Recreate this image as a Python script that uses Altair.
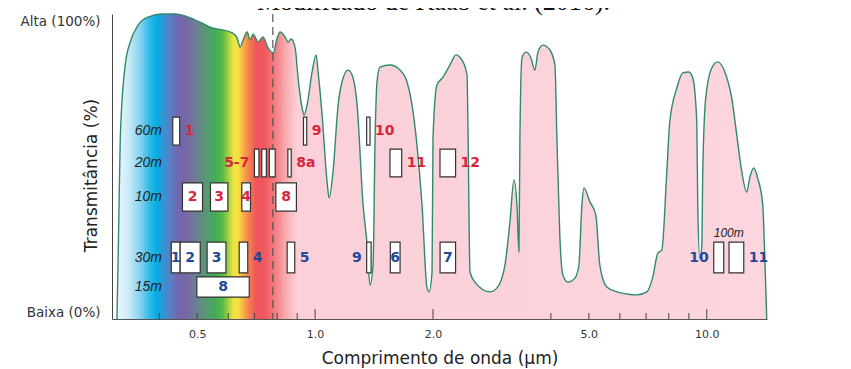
import altair as alt
import numpy as np
import pandas as pd

# ---------------- data ----------------
# atmospheric transmittance curve (wavelength in µm, transmittance in %)
WAVELENGTH = [0.312, 0.3148, 0.3181, 0.3275, 0.3373, 0.3535, 0.375, 0.407, 0.4394, 0.4743,
              0.5148, 0.5461, 0.5791, 0.6141, 0.6324, 0.6437, 0.6551, 0.6707, 0.6826, 0.6947,
              0.7154, 0.7367, 0.7543, 0.7815, 0.800, 0.8143, 0.8384, 0.8533, 0.8685, 0.8892,
              0.9049, 0.9264, 0.9374, 0.9541, 0.9825, 1.0059, 1.0178, 1.042, 1.073, 1.086,
              1.111, 1.145, 1.179, 1.214, 1.243, 1.280, 1.326, 1.358, 1.381, 1.406,
              1.423, 1.439, 1.465, 1.553, 1.648, 1.717, 1.768, 1.820, 1.875, 1.931,
              1.954, 1.989, 2.000, 2.047, 2.121, 2.210, 2.289, 2.371, 2.443, 2.457,
              2.486, 2.560, 2.795, 2.913, 3.053, 3.144, 3.219, 3.276, 3.315, 3.334,
              3.374, 3.454, 3.557, 3.641, 3.706, 3.816, 3.977, 4.096, 4.144, 4.217,
              4.292, 4.420, 4.606, 4.716, 4.800, 4.856, 5.029, 5.209, 5.333, 5.557,
              5.893, 6.250, 6.629, 7.031, 7.283, 7.499, 7.678, 7.906, 8.046, 8.385,
              8.685, 8.997, 9.211, 9.430, 9.485, 9.597, 9.710, 9.768, 9.941, 10.299,
              10.67, 11.12, 11.58, 11.93, 12.29, 12.65, 12.87, 13.18, 13.49, 13.90,
              14.06, 14.23]
TRANSMITTANCE = [0.0, 26.6, 59.3, 83.3, 90.8, 96.4, 99.0, 100.0, 100.0, 99.0,
                 97.0, 95.4, 94.8, 93.8, 92.1, 89.2, 91.5, 94.1, 91.5, 93.4,
                 90.8, 92.5, 89.5, 87.2, 92.1, 94.1, 92.5, 90.8, 91.8, 88.9,
                 79.0, 69.2, 66.9, 70.2, 81.0, 86.6, 81.0, 66.9, 44.9, 39.7,
                 48.2, 70.2, 79.0, 81.6, 80.0, 70.2, 37.4, 24.3, 11.1, 17.7,
                 59.3, 77.7, 82.6, 83.3, 81.6, 77.7, 70.2, 57.0, 37.4, 10.2,
                 8.9, 15.4, 59.3, 76.7, 79.3, 83.3, 86.6, 84.9, 80.0, 62.0,
                 15.4, 12.1, 8.9, 10.2, 17.7, 31.8, 45.6, 37.4, 22.0, 59.3,
                 85.6, 87.5, 85.6, 81.6, 87.5, 89.8, 88.2, 83.3, 59.3, 26.6,
                 14.4, 12.1, 13.4, 17.7, 37.4, 43.0, 38.4, 34.1, 17.7, 10.5,
                 8.9, 8.2, 7.9, 8.9, 13.8, 21.6, 22.6, 48.2, 64.6, 75.7,
                 80.7, 81.0, 79.0, 64.6, 37.4, 20.0, 23.3, 48.2, 72.5, 82.3,
                 84.3, 81.0, 72.5, 60.3, 48.2, 41.6, 46.2, 49.5, 46.2, 37.4,
                 21.0, 0.0]

# Sentinel-2 bands
S2_LABEL = ["1", "9", "10", "5-7", "", "", "8a", "11", "12", "2", "3", "4", "8"]
S2_ROW = ["60m", "60m", "60m", "20m", "20m", "20m", "20m", "20m", "20m", "10m", "10m", "10m", "10m"]
S2_LO = [0.433, 0.934, 1.354, 0.700, 0.731, 0.764, 0.852, 1.553, 2.084, 0.4585, 0.5406, 0.650, 0.794]
S2_HI = [0.451, 0.952, 1.381, 0.719, 0.751, 0.791, 0.869, 1.664, 2.284, 0.516, 0.5987, 0.684, 0.896]
S2_SIDE = ["right", "right", "right", "left", "none", "none", "right", "right", "right",
           "center", "center", "center", "center"]

# Landsat 8 bands
L8_LABEL = ["1", "2", "3", "4", "5", "9", "6", "7", "10", "11", "8"]
L8_ROW = ["30m"] * 10 + ["15m"]
L8_LO = [0.4293, 0.4524, 0.530, 0.640, 0.8485, 1.354, 1.556, 2.085, 10.42, 11.40, 0.499]
L8_HI = [0.4524, 0.509, 0.592, 0.673, 0.887, 1.390, 1.648, 2.284, 11.05, 12.43, 0.679]
L8_SIDE = ["center", "center", "center", "right", "right", "left", "center", "center",
           "left", "right", "center"]

ROW_NAMES = ["60m", "20m", "10m", "30m", "15m"]
SENSORS = ["Sentinel-2", "Landsat 8"]
X_LABELS = [0.5, 1, 2, 5, 10]
TICKS_MINOR = [0.4, 0.5, 0.6, 0.7, 0.8, 0.9, 4, 5, 6, 7, 8, 9]
TICKS_MAJOR = [1, 2, 10]
VISIBLE_LIMIT = [0.78]
SOURCE_NOTE = ["Modificado de Kääb et al. (2016)."]

# ---------------- layout / style ----------------
ROW_SPAN = {"60m": (57.0, 66.2), "20m": (46.6, 55.7), "10m": (35.4, 44.6),
            "30m": (15.1, 25.2), "15m": (7.2, 13.8)}
RED, BLUE = "#d7263d", "#1f4a9a"
GRAD_W = [0.312, 0.334, 0.358, 0.376, 0.395, 0.409, 0.428, 0.444, 0.466, 0.494, 0.52, 0.556,
          0.579, 0.600, 0.618, 0.636, 0.655, 0.678, 0.707, 0.746, 0.791, 0.838, 0.90, 14.23]
GRAD_C = ["#eef8fc", "#c9eaf7", "#86d2f0", "#36bce9", "#05ade2", "#3196d4", "#5b7ec3", "#6f69b1",
          "#7766a8", "#6e7c96", "#5c9479", "#44ab59", "#52b947", "#a3d042", "#e9e344", "#f8e13e",
          "#f9b048", "#f58050", "#f1545b", "#f05a5f", "#f47d81", "#f8a9ae", "#fbd0d8", "#fcd5de"]

PLOT_W, PLOT_H = 655, 305
SVG_H = 361
xscale = alt.Scale(type="log", domain=[0.303, 14.25], nice=False)
yscale = alt.Scale(domain=[0, 100], nice=False)

XAXIS = alt.Axis(
    values=X_LABELS, format=".1f", ticks=False, grid=False, domainColor="#555",
    labelFont="DejaVu Sans", labelFontSize=11, labelColor="#333", labelPadding=9,
    labelFlush=False, labelOverlap=False,
    title="Comprimento de onda (µm)", titleFont="DejaVu Sans", titleFontSize=17,
    titleFontWeight="normal", titleColor="#222", titleY=44, titleBaseline="alphabetic")
YAXIS = alt.Axis(
    values=[0, 100], labelExpr="datum.value == 100 ? 'Alta (100%)' : 'Baixa (0%)'",
    ticks=False, grid=False, domainColor="#444", labelFlush=True,
    labelFont="DejaVu Sans", labelFontSize=13.5, labelColor="#333", labelPadding=12,
    title="Transmitância (%)", titleFont="DejaVu Sans", titleFontSize=17,
    titleFontWeight="normal", titleColor="#222", titleAngle=270,
    titleX=-21, titleY=161, titleBaseline="middle", titleAlign="center")

X = lambda f: alt.X(f, type="quantitative", scale=xscale, axis=XAXIS, title="Comprimento de onda (µm)")
Y = lambda f: alt.Y(f, type="quantitative", scale=yscale, axis=YAXIS, title="Transmitância (%)")
color_enc = alt.Color("sensor:N", scale=alt.Scale(domain=SENSORS, range=[RED, BLUE]), legend=None)

curve = pd.DataFrame({"w": WAVELENGTH, "t": TRANSMITTANCE})
lw0, lw1 = np.log10(WAVELENGTH[0]), np.log10(WAVELENGTH[-1])
stops = [alt.GradientStop(color=c, offset=float((np.log10(w) - lw0) / (lw1 - lw0)))
         for w, c in zip(GRAD_W, GRAD_C)]

bands = pd.DataFrame({
    "sensor": ["Sentinel-2"] * len(S2_LABEL) + ["Landsat 8"] * len(L8_LABEL),
    "label": S2_LABEL + L8_LABEL,
    "row": S2_ROW + L8_ROW,
    "lo": S2_LO + L8_LO,
    "hi": S2_HI + L8_HI,
    "side": S2_SIDE + L8_SIDE,
})
bands["y0"] = [ROW_SPAN[r][0] for r in bands["row"]]
bands["y1"] = [ROW_SPAN[r][1] for r in bands["row"]]
bands["ym"] = (bands["y0"] + bands["y1"]) / 2
bands["wc"] = np.sqrt(bands["lo"] * bands["hi"])

area = alt.Chart(curve).mark_area(
    interpolate="monotone",
    color=alt.Gradient(gradient="linear", stops=stops, x1=0, x2=1, y1=0, y2=0),
).encode(x=X("w"), y=Y("t"))

line = alt.Chart(curve).mark_line(interpolate="monotone", color="#2f8a6c", strokeWidth=1.4).encode(
    x=X("w"), y=Y("t"))

dash = alt.Chart(pd.DataFrame({"w": VISIBLE_LIMIT})).mark_rule(
    color="#555", strokeDash=[8, 5], strokeWidth=1.2).encode(x=X("w"))

minor = alt.Chart(pd.DataFrame({"w": TICKS_MINOR})).mark_rule(color="#444").encode(
    x=X("w"), y=alt.value(PLOT_H), y2=alt.value(PLOT_H - 6))
major = alt.Chart(pd.DataFrame({"w": TICKS_MAJOR})).mark_rule(color="#444").encode(
    x=X("w"), y=alt.value(PLOT_H), y2=alt.value(PLOT_H - 10))

rects = alt.Chart(bands).mark_rect(fill="white", stroke="#333", strokeWidth=1.2).encode(
    x=X("lo"), x2="hi", y=Y("y0"), y2="y1")

num_style = dict(font="DejaVu Sans", fontWeight="bold", fontSize=14, baseline="middle")
lab_center = alt.Chart(bands).transform_filter("datum.side == 'center'").mark_text(
    align="center", **num_style).encode(x=X("wc"), y=Y("ym"), text="label:N", color=color_enc)
lab_right = alt.Chart(bands).transform_filter("datum.side == 'right'").mark_text(
    align="left", dx=5, **num_style).encode(x=X("hi"), y=Y("ym"), text="label:N", color=color_enc)
lab_left = alt.Chart(bands).transform_filter("datum.side == 'left'").mark_text(
    align="right", dx=-5, **num_style).encode(x=X("lo"), y=Y("ym"), text="label:N", color=color_enc)

rows = pd.DataFrame({"row": ROW_NAMES, "ym": [sum(ROW_SPAN[r]) / 2 for r in ROW_NAMES]})
row_labels = alt.Chart(rows).mark_text(
    align="right", baseline="middle", font="Liberation Sans", fontStyle="italic",
    fontSize=14, color="#222").encode(x=alt.value(50), y=Y("ym"), text="row:N")

tir = pd.DataFrame({"t": ["100m"], "w": [np.sqrt(L8_LO[8] * L8_HI[9])], "y": [ROW_SPAN["30m"][1]]})
tir_label = alt.Chart(tir).mark_text(
    align="center", baseline="bottom", dy=-2, font="Liberation Sans", fontStyle="italic",
    fontSize=12, color="#222").encode(x=X("w"), y=Y("y"), text="t:N")

sens = pd.DataFrame({"s": SENSORS, "ym": [sum(ROW_SPAN["20m"]) / 2, sum(ROW_SPAN["30m"]) / 2]})
sens_label = alt.Chart(sens).mark_text(
    align="left", baseline="middle", font="Liberation Sans", fontWeight="bold",
    fontSize=14).encode(x=alt.value(PLOT_W + 8), y=Y("ym"), text="s:N", color=color_enc)

# source note at the very top, cut by the page edge as in the reference
note = alt.Chart(pd.DataFrame({"n": SOURCE_NOTE})).mark_text(
    align="center", baseline="alphabetic", font="Liberation Serif", fontSize=26,
    color="#111").encode(x=alt.value(PLOT_W / 2 - 6), y=alt.value(-4), text="n:N")

chart = alt.layer(
    area, line, dash, minor, major, rects, lab_center, lab_right, lab_left,
    row_labels, tir_label, sens_label, note,
).properties(
    width=PLOT_W, height=PLOT_H,
    autosize="none",
    padding={"left": 104, "top": 6, "right": 76, "bottom": SVG_H - 6 - PLOT_H},
    background="white",
).configure_view(stroke=None)

chart.save("out.html", embed_options={"renderer": "svg", "actions": False})
